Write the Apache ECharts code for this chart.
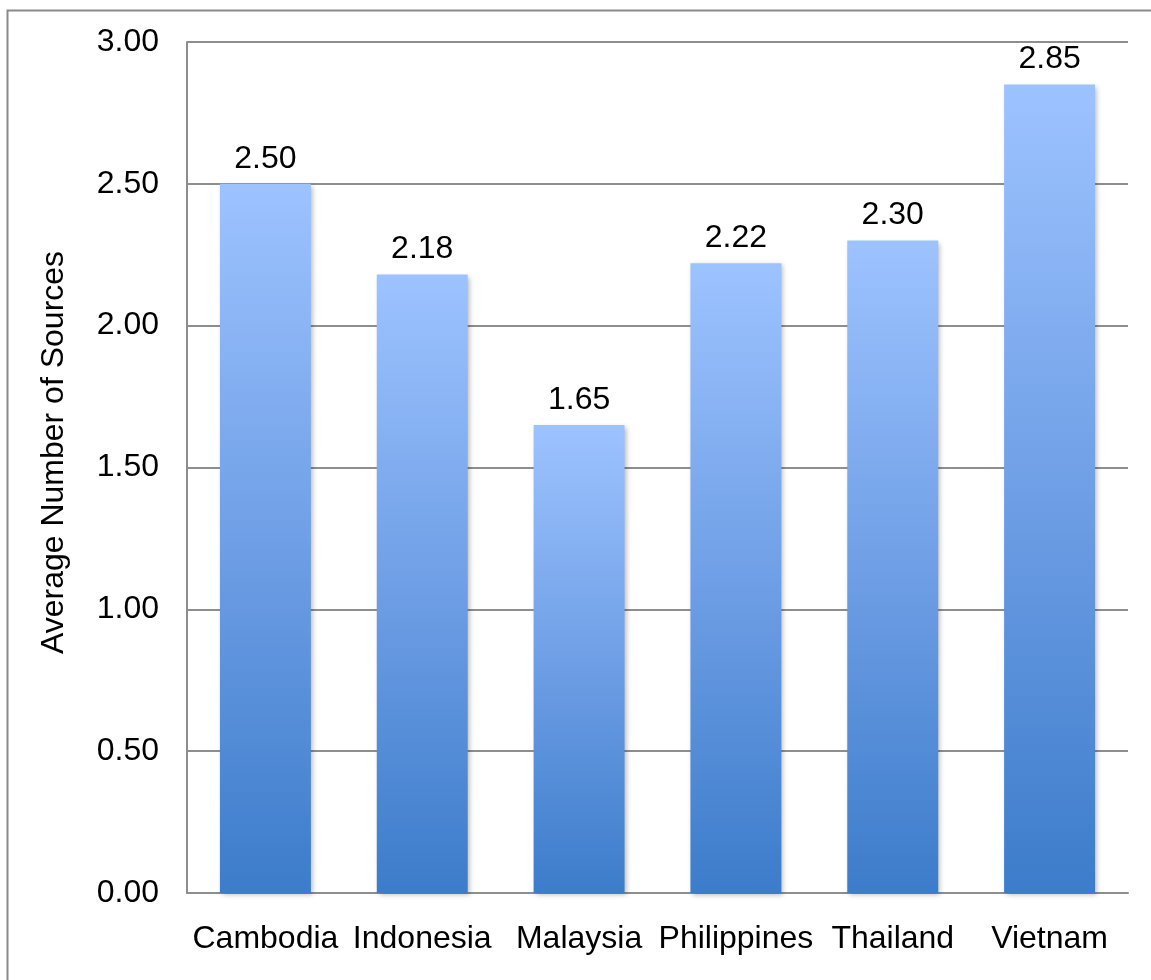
<!DOCTYPE html>
<html>
<head>
<meta charset="utf-8">
<style>
  html, body { margin: 0; padding: 0; background: #ffffff; }
  #chart { width: 1151px; height: 980px; }
</style>
<script src="https://cdn.jsdelivr.net/npm/echarts@6/dist/echarts.min.js"></script>
</head>
<body>
<div id="chart"></div>
<script>
// Average number of sources per country
const countries = ['Cambodia', 'Indonesia', 'Malaysia', 'Philippines', 'Thailand', 'Vietnam'];
const avgSources = [2.50, 2.18, 1.65, 2.22, 2.30, 2.85];
const yTicks = { min: 0, max: 3, interval: 0.5 };
const yAxisTitle = 'Average Number of Sources';

const FONT = '"Liberation Sans", Arial, sans-serif';
const GRID_COLOR = '#8e8e8e';

const chart = echarts.init(document.getElementById('chart'), null, { renderer: 'canvas' });

chart.setOption({
  backgroundColor: '#ffffff',
  animation: false,
  textStyle: { fontFamily: FONT },
  graphic: [{
    type: 'rect',
    shape: { x: 7.5, y: 10.5, width: 1200, height: 1100 },
    style: { fill: 'none', stroke: '#8a8a8a', lineWidth: 2 },
    silent: true,
    z: -1
  }],
  grid: { left: 187, right: 23, top: 42, bottom: 87, containLabel: false },
  xAxis: {
    type: 'category',
    data: countries,
    axisLine: { show: true, lineStyle: { color: GRID_COLOR, width: 2 } },
    axisTick: { show: false },
    axisLabel: { color: '#000000', fontSize: 32, fontFamily: FONT, margin: 30, interval: 0 },
    splitLine: { show: false }
  },
  yAxis: {
    type: 'value',
    min: yTicks.min,
    max: yTicks.max,
    interval: yTicks.interval,
    name: yAxisTitle,
    nameLocation: 'middle',
    nameGap: 117,
    nameRotate: 90,
    nameTextStyle: { color: '#000000', fontSize: 32, fontFamily: FONT, padding: [0, 0, 0, 30] },
    axisLine: { show: true, lineStyle: { color: GRID_COLOR, width: 2 } },
    axisTick: { show: false },
    axisLabel: {
      color: '#000000', fontSize: 32, fontFamily: FONT, margin: 28,
      formatter: v => v.toFixed(2)
    },
    splitLine: { show: true, lineStyle: { color: GRID_COLOR, width: 2 } }
  },
  series: [{
    type: 'bar',
    data: avgSources,
    barCategoryGap: '42%',
    itemStyle: {
      color: new echarts.graphic.LinearGradient(0, 0, 0, 1, [
        { offset: 0, color: '#9dc3ff' },
        { offset: 0.5, color: '#6f9fe6' },
        { offset: 1, color: '#3c7cca' }
      ]),
      shadowColor: 'rgba(0,0,0,0.28)',
      shadowBlur: 5,
      shadowOffsetX: 2,
      shadowOffsetY: 2
    },
    label: {
      show: true,
      position: 'top',
      distance: 9,
      color: '#000000',
      fontSize: 32,
      fontFamily: FONT,
      formatter: p => p.value.toFixed(2)
    }
  }]
});
</script>
</body>
</html>
